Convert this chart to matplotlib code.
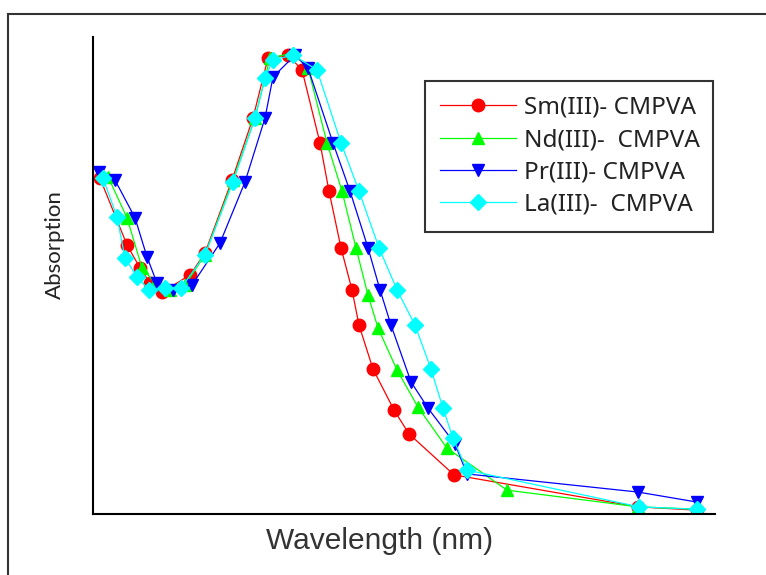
## UV-Vis absorption spectra of the lanthanide CMPVA complexes

import matplotlib
matplotlib.use('Agg')
import matplotlib.pyplot as plt
from matplotlib.lines import Line2D

# Sm(III)- CMPVA
sm_wl = [203.5, 217, 223.5, 228.5, 234.5, 248.5, 256, 269.5, 280, 287.5, 297.5, 304.5,
         313.5, 318, 324, 329.5, 333, 340, 350.5, 358, 380.5, 472.5, 502]
sm_abs = [0.704, 0.564, 0.516, 0.484, 0.465, 0.501, 0.547, 0.700, 0.830, 0.956, 0.962, 0.931,
          0.778, 0.677, 0.558, 0.470, 0.396, 0.304, 0.218, 0.168, 0.082, 0.015, 0.008]

# Nd(III)- CMPVA
nd_wl = [207.5, 217, 224.5, 231, 238.5, 246, 256, 270, 281, 288.5, 300, 307.5,
         317, 324.5, 331.5, 337.5, 342.5, 352, 362.5, 377, 407, 472.5, 502]
nd_abs = [0.707, 0.621, 0.516, 0.484, 0.470, 0.480, 0.543, 0.700, 0.830, 0.956, 0.966, 0.935,
          0.778, 0.677, 0.558, 0.459, 0.390, 0.302, 0.224, 0.138, 0.050, 0.015, 0.010]

# Pr(III)- CMPVA
pr_wl = [203, 211, 221, 227, 232, 240, 249.5, 263.5, 276, 286, 290, 301, 307.5,
         320, 328.5, 337.5, 343.5, 349, 359, 367.5, 381, 387, 472.5, 502]
pr_abs = [0.717, 0.700, 0.621, 0.539, 0.484, 0.470, 0.480, 0.568, 0.696, 0.830, 0.916, 0.962, 0.935,
          0.778, 0.677, 0.558, 0.470, 0.396, 0.277, 0.222, 0.147, 0.084, 0.046, 0.025]

# La(III)- CMPVA
la_wl = [205, 212, 216, 222, 228, 236, 244, 256, 270, 281, 286, 290, 300, 312,
         324, 333, 343, 352, 361, 369, 375, 380, 387, 473, 502]
la_abs = [0.704, 0.623, 0.537, 0.497, 0.470, 0.474, 0.474, 0.543, 0.696, 0.830, 0.914, 0.952, 0.962, 0.931,
          0.778, 0.677, 0.558, 0.470, 0.396, 0.304, 0.222, 0.159, 0.092, 0.015, 0.010]

fig = plt.figure(figsize=(7.66, 5.75), dpi=100)
ax = fig.add_axes([0.1214, 0.1061, 0.812, 0.8296])

ms = 9
lw = 0.9
ax.plot(sm_wl, sm_abs, color='#ff0000', marker='o', markersize=ms, lw=lw, label='Sm(III)- CMPVA')
ax.plot(nd_wl, nd_abs, color='#00ff00', marker='^', markersize=ms, lw=lw, label='Nd(III)-  CMPVA')
ax.plot(pr_wl, pr_abs, color='#0000ff', marker='v', markersize=ms, lw=lw, label='Pr(III)- CMPVA')
ax.plot(la_wl, la_abs, color='#00ffff', marker='D', markersize=ms - 1, lw=lw, label='La(III)-  CMPVA')

ax.set_xlim(200, 511)
ax.set_ylim(0, 1.0)
ax.set_xticks([])
ax.set_yticks([])
for side in ['top', 'right']:
    ax.spines[side].set_visible(False)
for side in ['left', 'bottom']:
    ax.spines[side].set_linewidth(1.5)

ax.set_xlabel('Wavelength (nm)', fontsize=21.5, color='#333333', family='Liberation Sans', va='top')
ax.xaxis.set_label_coords(0.46, -0.028)
ax.set_ylabel('Absorption', fontsize=16, color='#222222', family='Lato')
ax.yaxis.set_label_coords(-0.045, 0.564)

leg = ax.legend(loc='upper left', bbox_to_anchor=(0.534, 0.591, 0.463, 0.317), mode='expand',
                borderaxespad=0, fancybox=False, edgecolor='#333333', framealpha=1,
                handlelength=3.1, labelspacing=0.34, borderpad=0.62, handletextpad=0.33,
                prop={'family': 'Noto Sans', 'size': 17.5})
leg.get_frame().set_linewidth(1.5)
for t in leg.get_texts():
    t.set_color('#222222')

# outer frame of the figure (left and top edges visible)
fig.add_artist(Line2D([0.0104, 0.0104], [0, 0.9757], color='#333333', lw=1.5))
fig.add_artist(Line2D([0.0104, 1.0], [0.9757, 0.9757], color='#333333', lw=1.5))

fig.savefig('out.png', dpi=100)
